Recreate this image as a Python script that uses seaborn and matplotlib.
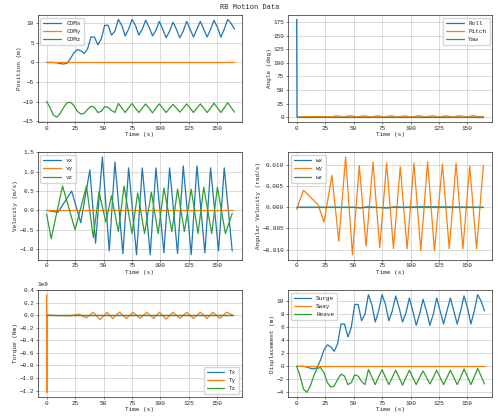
import numpy as np
import pandas as pd
import matplotlib
matplotlib.use("Agg")
import matplotlib.pyplot as plt
import seaborn as sns

sns.set_theme(style="ticks")
plt.rcParams['font.family'] = ['Liberation Mono', 'DejaVu Sans Mono']

# ---- data ----
t_grid = list(range(0, 166, 3))
com_x = [0, 0, 0, -0.1, -0.3, -0.4, -0.2, 1, 2.5, 3.3, 3, 2.3, 3.5, 6.5, 6.5, 4.5, 6, 9.5, 9.5, 7,
         8, 11, 9.5, 6.8, 8.5, 11, 9.5, 7, 8.5, 10.8, 9, 6.8, 8.2, 10.5, 8.5, 6.3, 8, 10.3, 8.5, 6.3,
         8, 10.5, 8.5, 6.5, 8.5, 10.5, 8.5, 6.5, 8.5, 10.8, 9, 6.5, 8.5, 11, 10, 8.5]
com_y = [0.0] * len(t_grid)
com_z = [-10, -11.5, -13.5, -14, -13, -11.5, -10.3, -10.2, -11, -12.5, -13.2, -13, -12, -11.2, -11.5,
         -12.8, -12.5, -11.3, -11.5, -12.3, -12.8, -10.5, -11.6, -12.8, -11.6, -10.5, -11.7, -12.8,
         -11.7, -10.6, -11.7, -12.9, -11.7, -10.6, -11.7, -12.8, -11.7, -10.7, -11.7, -12.7, -11.7,
         -10.6, -11.7, -12.8, -11.7, -10.6, -11.7, -12.8, -11.7, -10.4, -11.6, -12.8, -11.6, -10.3,
         -11.5, -12.7]

roll_t = [0, 0.3, 1, 164]
roll = [180, 0, 0, 0]
pitch_t = [0, 10, 20, 30, 35, 41, 47, 53, 59, 65, 71, 77, 83, 89, 95, 101, 107, 113, 119, 125,
           131, 137, 143, 149, 155, 161, 164]
pitch = [0, 1, 1.2, 0.5, 2.5, 0.3, 2.8, 0.3, 2.5, 0.3, 2.6, 0.3, 2.7, 0.3, 2.5, 0.3, 2.7, 0.3,
         2.6, 0.3, 2.6, 0.3, 2.7, 0.3, 2.8, 0.3, 1.5]
yaw_t = [0, 164]
yaw = [0, 0]

vx_t = [0, 10, 22, 30, 38, 43, 49, 55, 60, 67, 72, 79, 84, 91, 96, 103, 108, 115, 120, 127, 132,
        139, 144, 151, 156, 163]
vx = [0, -0.05, 0.5, -0.32, 1.05, -0.85, 1.38, -1.05, 1.25, -1.12, 1.1, -1.15, 1.1, -1.15, 1.1,
      -1.1, 1.1, -1.12, 1.15, -1.15, 1.15, -1.1, 1.1, -1.05, 1.1, -1.05]
vy_t = [0, 164]
vy = [0, 0]
vz_t = [0, 4, 14, 25, 35, 41, 46, 52, 57, 63, 68, 75, 80, 86, 92, 98, 103, 110, 115, 121, 127,
        133, 138, 145, 150, 157, 163]
vz = [-0.1, -0.73, 0.63, -0.5, 0.63, -0.7, 0.48, -0.3, 0.38, -0.55, 0.63, -0.6, 0.45, -0.6, 0.47,
      -0.6, 0.58, -0.55, 0.55, -0.55, 0.55, -0.6, 0.6, -0.6, 0.6, -0.6, -0.08]

wx_t = [0, 50, 56, 62, 80, 86, 92, 110, 164]
wx = [0, 0, -0.0002, 0.0001, -0.0002, 0.0001, 0, 0.0001, 0]
wy_t = [0, 6, 19, 24, 31, 37, 43, 49, 55, 61, 67, 73, 79, 85, 91, 97, 103, 109, 115, 121, 128,
        134, 140, 146, 152, 158, 164]
wy = [-0.0005, 0.004, 0.0005, -0.0035, 0.0075, -0.008, 0.0118, -0.0112, 0.0098, -0.0092, 0.0106,
      -0.0095, 0.0104, -0.0098, 0.0095, -0.0098, 0.0104, -0.0102, 0.0107, -0.0102, 0.0102,
      -0.0098, 0.0104, -0.0098, 0.0097, -0.0098, 0.0099]
wz_t = [0, 164]
wz = [0, 0]

tx_t = [0, 164]
tx = [0, 0]
ty_t = [0, 0.2, 0.4, 0.7, 5, 20, 28, 35, 41, 47, 53, 58, 64, 70, 76, 82, 88, 94, 99, 105, 111,
        117, 123, 129, 135, 141, 146, 152, 158, 163]
ty = [0.33e9, -1.23e9, 0.02e9, 0.01e9, 0, -0.01e9, 0.02e9, -0.04e9, 0.05e9, -0.07e9, 0.05e9,
      -0.05e9, 0.05e9, -0.05e9, 0.05e9, -0.05e9, 0.05e9, -0.05e9, 0.05e9, -0.06e9, 0.05e9,
      -0.05e9, 0.05e9, -0.05e9, 0.05e9, -0.05e9, 0.05e9, -0.05e9, 0.05e9, 0.01e9]
tz_t = [0, 164]
tz = [0, 0]

surge = com_x
sway = com_y
heave = [z - com_z[0] for z in com_z]

# ---- plot ----
C = sns.color_palette("tab10")
fig, axes = plt.subplots(3, 2, figsize=(5.0, 4.16), dpi=100)
fs = 4.3

def draw(ax, series, ylabel, loc):
    for (x, y, lab), c in zip(series, C[:3]):
        sns.lineplot(x=x, y=y, ax=ax, label=lab, color=c, lw=0.9, estimator=None, sort=False)
    ax.set_xlabel("Time (s)", fontsize=fs, labelpad=1)
    ax.set_ylabel(ylabel, fontsize=fs, labelpad=1)
    ax.tick_params(labelsize=fs, length=1.5, width=0.4, pad=1)
    ax.grid(True, color="#cccccc", lw=0.5)
    ax.set_xlim(-8, 172)
    ax.set_xticks([0, 25, 50, 75, 100, 125, 150])
    for s in ax.spines.values():
        s.set_linewidth(0.5)
    ax.yaxis.get_offset_text().set_fontsize(fs)
    ax.legend(loc=loc, fontsize=fs, frameon=True, handlelength=3, borderpad=0.5, labelspacing=0.5)

draw(axes[0, 0], [(t_grid, com_x, "COMx"), (t_grid, com_y, "COMy"), (t_grid, com_z, "COMz")],
     "Position (m)", "upper left")
draw(axes[0, 1], [(roll_t, roll, "Roll"), (pitch_t, pitch, "Pitch"), (yaw_t, yaw, "Yaw")],
     "Angle (deg)", "upper right")
draw(axes[1, 0], [(vx_t, vx, "vx"), (vy_t, vy, "vy"), (vz_t, vz, "vz")],
     "Velocity (m/s)", "upper left")
draw(axes[1, 1], [(wx_t, wx, "wx"), (wy_t, wy, "wy"), (wz_t, wz, "wz")],
     "Angular Velocity (rad/s)", "upper left")
draw(axes[2, 0], [(tx_t, tx, "Tx"), (ty_t, ty, "Ty"), (tz_t, tz, "Tz")],
     "Torque (Nm)", "lower right")
draw(axes[2, 1], [(t_grid, surge, "Surge"), (t_grid, sway, "Sway"), (t_grid, heave, "Heave")],
     "Displacement (m)", "upper left")

axes[0, 0].set_yticks([-15, -10, -5, 0, 5, 10])
axes[0, 1].set_yticks(range(0, 176, 25))

fig.suptitle("RB Motion Data", fontsize=5, y=0.99)
fig.subplots_adjust(left=0.075, right=0.985, top=0.965, bottom=0.045, wspace=0.22, hspace=0.28)
fig.savefig("out.png", dpi=100)
